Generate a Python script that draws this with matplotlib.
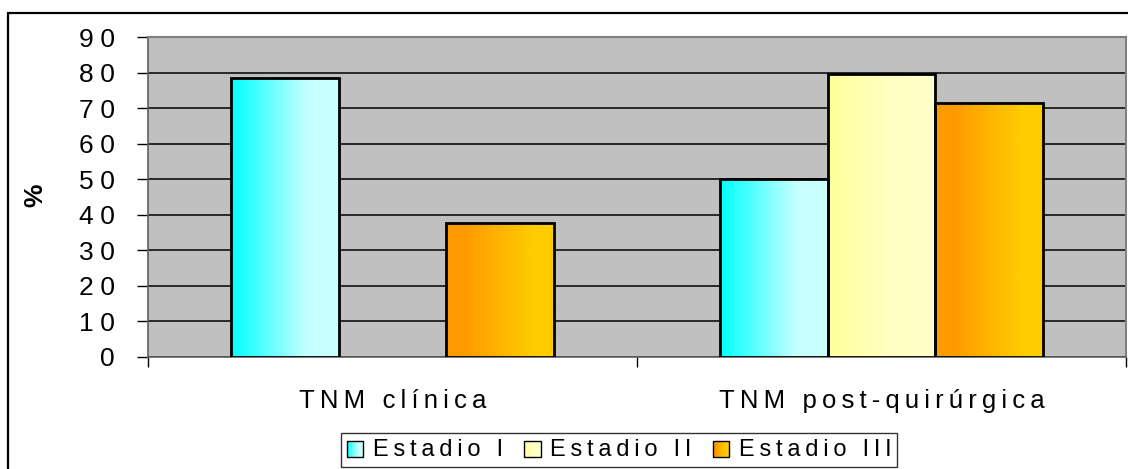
import matplotlib.pyplot as plt
import numpy as np
from matplotlib.colors import LinearSegmentedColormap
from matplotlib.patches import Rectangle
from matplotlib.legend_handler import HandlerBase

categories = ["TNM clínica", "TNM post-quirúrgica"]
series = ["Estadio I", "Estadio II", "Estadio III"]
estadio1 = [78.6, 50.0]
estadio2 = [np.nan, 79.7]
estadio3 = [37.6, 71.3]
yticks = [0, 10, 20, 30, 40, 50, 60, 70, 80, 90]

FONT = ["Liberation Sans", "DejaVu Sans"]
plt.rcParams["font.family"] = FONT


def spaced(s, sep="\u2009"):
    # emulate the wide letter spacing of the original
    return sep.join(s)


cmaps = [
    LinearSegmentedColormap.from_list("c1", [(0, "#00FFFF"), (0.7, "#C4FFFF"), (1, "#CCFFFF")]),
    LinearSegmentedColormap.from_list("c2", [(0, "#FFFF99"), (0.6, "#FFFFC4"), (1, "#FFFFCC")]),
    LinearSegmentedColormap.from_list("c3", [(0, "#FF9900"), (0.2, "#FF9C00"), (0.8, "#FFCC00"), (1, "#FFCC00")]),
]

fig = plt.figure(figsize=(11.28, 4.69), dpi=100)
ax = fig.add_axes([148 / 1128, 1 - 357 / 469, 978 / 1128, 320 / 469])
ax.set_facecolor("#C0C0C0")

x = np.arange(len(categories))
w = 0.22
grad = np.linspace(0, 1, 256).reshape(1, -1)
for i, vals in enumerate([estadio1, estadio2, estadio3]):
    bars = ax.bar(x + (i - 1) * w, vals, w, facecolor="none", edgecolor="black",
                  linewidth=2, zorder=4)
    for b, v in zip(bars, vals):
        if np.isnan(v):
            continue
        im = ax.imshow(grad, cmap=cmaps[i], aspect="auto", zorder=3,
                       extent=[b.get_x(), b.get_x() + b.get_width(), 0, v])
        im.set_clip_path(b)

ax.set_xlim(-0.5, 1.5)
ax.set_ylim(0, 90)
ax.set_yticks(yticks)
ax.set_yticklabels([spaced(str(t), "\u2005") for t in yticks], fontsize=19)
ax.yaxis.grid(True, color="black", linewidth=1.1)
ax.set_axisbelow(True)
ax.tick_params(axis="y", length=8, width=1, pad=16)

ax.set_xticks(x)
ax.set_xticklabels([spaced(c) for c in categories], fontsize=18.5)
ax.set_xticks([-0.5, 0.5, 1.5], minor=True)
ax.tick_params(axis="x", which="major", length=0, pad=23)
ax.tick_params(axis="x", which="minor", length=7, width=1)

for s in ["top", "right"]:
    ax.spines[s].set_color("#808080")
    ax.spines[s].set_linewidth(1.5)
for s in ["left", "bottom"]:
    ax.spines[s].set_color("#606060")
    ax.spines[s].set_linewidth(1.2)

fig.text(35 / 1128, 1 - 195 / 469, "%", rotation=90, fontsize=19,
         fontweight="bold", ha="center", va="center")

# outer chart border (clipped by the image edges)
fig.patches.append(Rectangle((8 / 1128, -0.2), 1.2, 1 - 13 / 469 + 0.2,
                             transform=fig.transFigure, fill=False,
                             edgecolor="black", linewidth=1.6))


class GradHandler(HandlerBase):
    def __init__(self, cmap):
        super().__init__()
        self.cmap = cmap

    def create_artists(self, legend, orig_handle, xdescent, ydescent,
                       width, height, fontsize, trans):
        side = width
        x0 = 0
        y0 = -ydescent + (height - side) / 2 - 1
        arts = []
        n = 12
        for k in range(n):
            arts.append(Rectangle((x0 + k * side / n, y0), side / n, side,
                                  facecolor=self.cmap((k + 0.5) / n),
                                  edgecolor="none", transform=trans))
        arts.append(Rectangle((x0, y0), side, side, fill=False,
                              edgecolor="black", linewidth=1, transform=trans))
        return arts


handles = [Rectangle((0, 0), 1, 1) for _ in series]
leg = fig.legend(handles, [spaced(s, "\u2009") for s in series],
                 handler_map={h: GradHandler(c) for h, c in zip(handles, cmaps)},
                 loc="upper center", bbox_to_anchor=(619 / 1128, 1 - 433 / 469),
                 ncol=3, fontsize=17, frameon=True, fancybox=False,
                 edgecolor="black", handlelength=0.7, handletextpad=0.4,
                 columnspacing=0.9, borderpad=0.25, borderaxespad=0)
leg.get_frame().set_linewidth(1)

fig.savefig("out.png", dpi=100)
